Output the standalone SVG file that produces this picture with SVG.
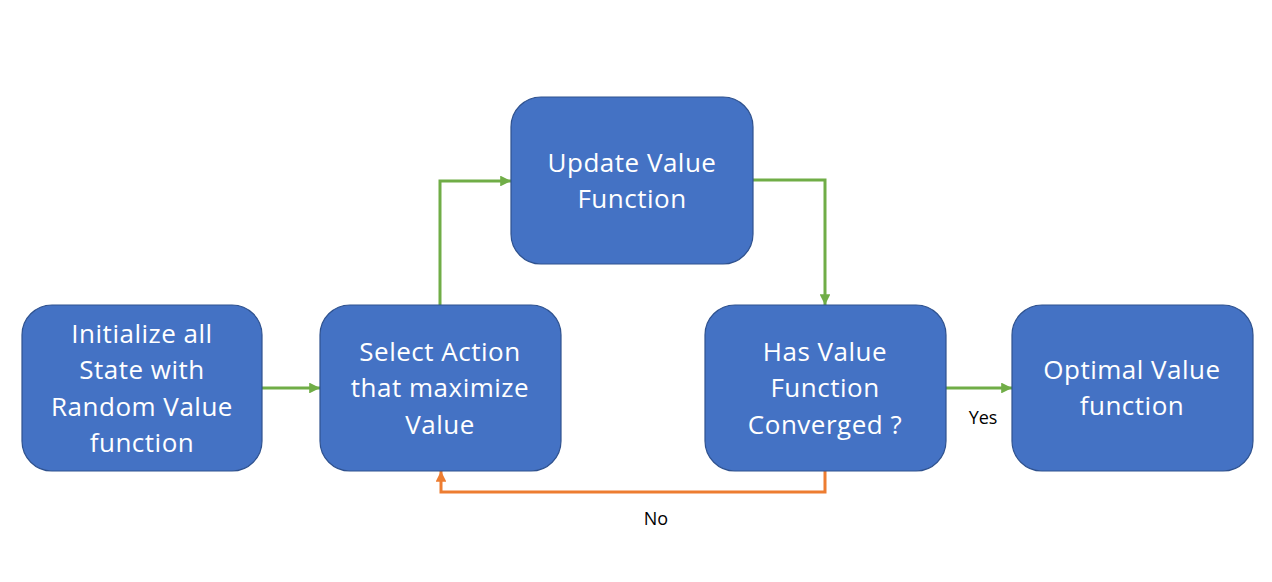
<svg xmlns="http://www.w3.org/2000/svg" width="1272" height="582" viewBox="0 0 1272 582">
<style>
.node rect{fill:#4472C4;stroke:#2F528F;stroke-width:1.2}
.node text{fill:#FFFFFF;font-family:"Open Sans","Noto Sans",sans-serif;font-size:26px;letter-spacing:0.5px;text-anchor:middle}
.lbl{fill:#000000;font-family:"Open Sans","Noto Sans",sans-serif;font-size:18px;text-anchor:middle}
.g{fill:none;stroke:#70AD47;stroke-width:3}
.o{fill:none;stroke:#ED7D31;stroke-width:3}
</style>
<defs>
<marker id="ag" viewBox="0 0 10 10" refX="10" refY="5" markerWidth="3.6" markerHeight="3.6" orient="auto" markerUnits="strokeWidth"><path d="M0,0 L10,5 L0,10 z" fill="#70AD47"/></marker>
<marker id="ao" viewBox="0 0 10 10" refX="10" refY="5" markerWidth="3.6" markerHeight="3.6" orient="auto" markerUnits="strokeWidth"><path d="M0,0 L10,5 L0,10 z" fill="#ED7D31"/></marker>
</defs>
<rect width="1272" height="582" fill="#FFFFFF"/>
<g id="connectors">
<path class="g" d="M262,388 L320,388" marker-end="url(#ag)"/>
<path class="g" d="M440,305 L440,181 L511,181" marker-end="url(#ag)"/>
<path class="g" d="M753,180 L825,180 L825,305" marker-end="url(#ag)"/>
<path class="g" d="M946,388 L1012,388" marker-end="url(#ag)"/>
<path class="o" d="M825,471 L825,492 L441,492 L441,471" marker-end="url(#ao)"/>
<text class="lbl" x="983" y="424">Yes</text>
<text class="lbl" x="656" y="525">No</text>
</g>
<g id="n1" class="node">
<rect x="22" y="305" width="240" height="166" rx="30"/>
<text x="142" y="343">Initialize all</text>
<text x="142" y="379">State with</text>
<text x="142" y="416">Random Value</text>
<text x="142" y="452">function</text>
</g>
<g id="n2" class="node">
<rect x="320" y="305" width="241" height="166" rx="30"/>
<text x="440" y="361">Select Action</text>
<text x="440" y="397">that maximize</text>
<text x="440" y="434">Value</text>
</g>
<g id="n3" class="node">
<rect x="511" y="97" width="242" height="167" rx="30"/>
<text x="632" y="172">Update Value</text>
<text x="632" y="208">Function</text>
</g>
<g id="n4" class="node">
<rect x="705" y="305" width="241" height="166" rx="30"/>
<text x="825" y="361">Has Value</text>
<text x="825" y="397">Function</text>
<text x="825" y="434">Converged ?</text>
</g>
<g id="n5" class="node">
<rect x="1012" y="305" width="241" height="166" rx="30"/>
<text x="1132" y="379">Optimal Value</text>
<text x="1132" y="415">function</text>
</g>
</svg>
